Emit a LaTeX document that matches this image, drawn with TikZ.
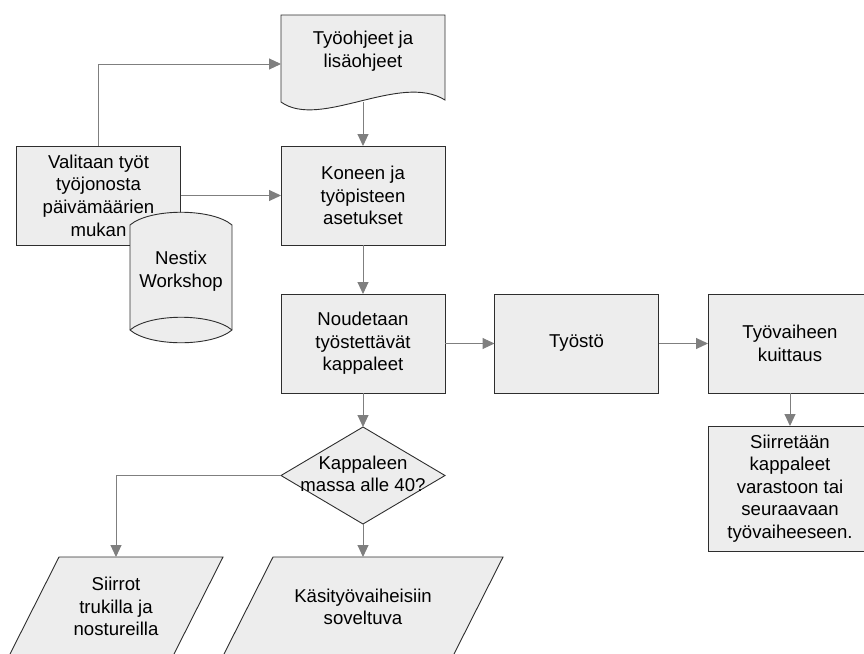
\documentclass[tikz,border=0pt]{standalone}
\usepackage{fontspec}
\setmainfont{Liberation Sans}
\usetikzlibrary{arrows.meta}
\definecolor{shapefill}{HTML}{EDEDED}
\definecolor{shapeline}{HTML}{2E2E2E}
\definecolor{flowline}{HTML}{7F7F7F}
\tikzset{
  stepbox/.style={rectangle, draw=shapeline, fill=shapefill, line width=0.9pt,
    minimum width=164pt, minimum height=99pt, inner sep=0pt, outer sep=0pt,
    align=center},
  shapepath/.style={draw=shapeline, fill=shapefill, line width=0.9pt},
  anchorbox/.style={rectangle, inner sep=0pt, outer sep=0pt, align=center},
  flow/.style={draw=flowline, line width=1pt,
    -{Triangle[length=12pt,width=11pt]}},
  every node/.append style={font=\fontsize{18.6}{22.6}\selectfont, text=black}
}
\begin{document}
\begin{tikzpicture}[x=1pt,y=-1pt]
\useasboundingbox (0,0) rectangle (864,653);
\clip (0,0) rectangle (864,653);

% document shape: work instructions
\path[shapepath] (281,102) -- (281,15) -- (445,15) -- (445,100)
  .. controls (400,72) and (320,130) .. (281,102) -- cycle;
\node[anchorbox, minimum width=164pt, minimum height=98pt] (doc) at (363,64) {};
\node[anchorbox] (doctext) at (363,51) {Työohjeet ja\\lisäohjeet};
\coordinate (docwave) at (363,102);

% process boxes
\node[stepbox] (sel) at (98.5,195.5) {Valitaan työt\\työjonosta\\päivämäärien\\mukan};
\node[stepbox] (setup) at (363,195.5) {Koneen ja\\työpisteen\\asetukset};
\node[stepbox] (fetch) at (363,343.5) {Noudetaan\\työstettävät\\kappaleet};
\node[stepbox] (mach) at (576.5,343.5) {Työstö};
\node[stepbox] (ack) at (790,343.5) {Työvaiheen\\kuittaus};
\node[stepbox, minimum height=125pt] (move) at (790,488.5)
  {Siirretään\\kappaleet\\varastoon tai\\seuraavaan\\työvaiheeseen.};

% stored data cylinder
\path[shapepath] (130,225) .. controls (150,208) and (212,208) .. (232,225)
  -- (232,330) .. controls (212,347) and (150,347) .. (130,330) -- cycle;
\draw[shapeline, line width=0.9pt] (130,330) .. controls (150,313) and (212,313) .. (232,330);
\node[anchorbox] (db) at (181,271) {Nestix\\Workshop};

% decision
\path[shapepath] (363,427) -- (445,475.5) -- (363,524) -- (281,475.5) -- cycle;
\node[anchorbox, minimum width=164pt, minimum height=97pt] (dec) at (363,475.5) {};
\node[anchorbox] (dectext) at (363,474) {Kappaleen\\massa alle 40?};

% parallelograms
\path[shapepath] (59,557) -- (223,557) -- (173,656) -- (9,656) -- cycle;
\node[anchorbox, minimum width=164pt, minimum height=99pt] (lift) at (116,606.5)
  {Siirrot\\trukilla ja\\nostureilla};
\path[shapepath] (273,557) -- (503,557) -- (453,656) -- (223,656) -- cycle;
\node[anchorbox, minimum width=230pt, minimum height=99pt] (hand) at (363,606.5) {};
\node[anchorbox] (handtext) at (363,607) {Käsityövaiheisiin\\soveltuva};

% connectors
\draw[flow] (sel.north -| 98,0) |- (doc.west);
\draw[flow] (docwave) -- (setup.north);
\draw[flow] (sel.east) -- (setup.west);
\draw[flow] (setup.south) -- (fetch.north);
\draw[flow] (fetch.east) -- (mach.west);
\draw[flow] (mach.east) -- (ack.west);
\draw[flow] (ack.south) -- (move.north);
\draw[flow] (fetch.south) -- (dec.north);
\draw[flow] (dec.west) -| (lift.north);
\draw[flow] (dec.south) -- (hand.north);
\end{tikzpicture}
\end{document}
